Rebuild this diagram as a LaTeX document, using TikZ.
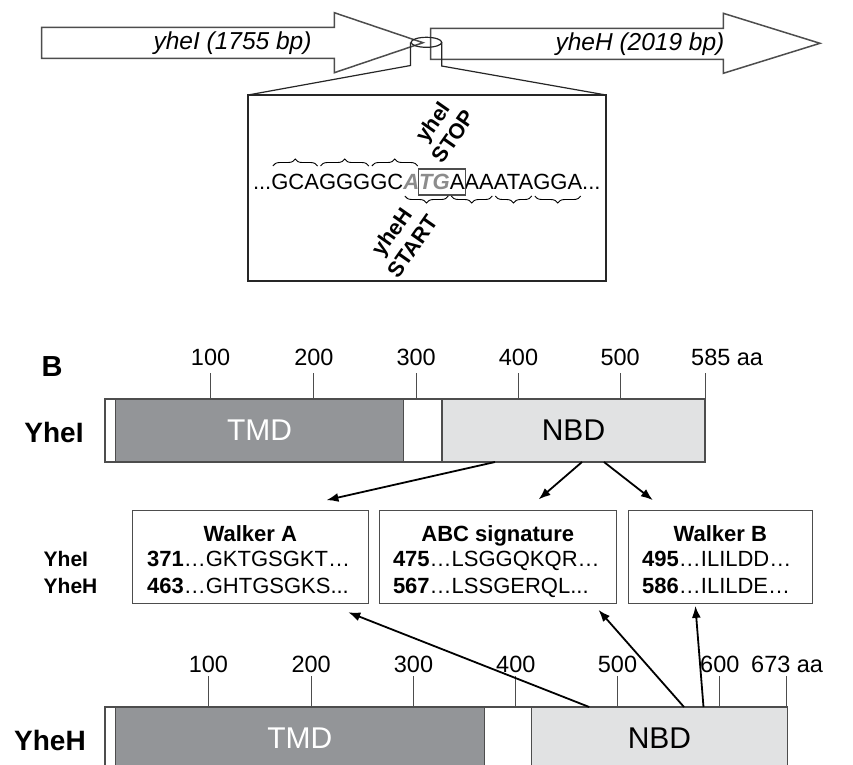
\documentclass[tikz,border=0pt]{standalone}
\usepackage{fontspec}
\setmainfont{Liberation Sans}
\usetikzlibrary{decorations.pathreplacing,arrows.meta}
\definecolor{tmdgray}{HTML}{939598}
\definecolor{nbdgray}{HTML}{E1E2E3}
\definecolor{edgegray}{HTML}{4D4D4D}
\definecolor{atggray}{HTML}{8C8C8C}
\newcommand{\myfs}[2]{\fontsize{#1}{#2}\selectfont}
\begin{document}
\begin{tikzpicture}[x=1pt,y=-1pt,
  gene/.style={draw=edgegray, line width=1.5pt, fill=white, line join=miter},
  zoomln/.style={draw=black!85, line width=1.2pt},
  genelbl/.style={font=\myfs{24.5}{28}\itshape, inner sep=0},
  seq/.style={inner sep=0, outer sep=0, anchor=base west, font=\myfs{22}{26}},
  atg/.style={seq, text=atggray, font=\myfs{22}{26}\bfseries\itshape},
  brc/.style={decorate, decoration={brace, amplitude=7pt}, line width=0.9pt},
  brcm/.style={decorate, decoration={brace, amplitude=7pt, mirror}, line width=0.9pt},
  rotlbl/.style={rotate=55, align=center, font=\myfs{21.5}{25}\bfseries, inner sep=0},
  barbase/.style={draw=edgegray, line width=1.2pt, fill=white, inner sep=0, outer sep=0, minimum height=63pt, anchor=north west},
  tmdbar/.style={barbase, fill=tmdgray, text=white, font=\myfs{30}{34}},
  nbdbar/.style={barbase, fill=nbdgray, text=black, font=\myfs{30}{34}},
  tickln/.style={draw=edgegray, line width=1pt},
  ticklbl/.style={font=\myfs{23.5}{28}, inner sep=0, anchor=base},
  protlbl/.style={font=\myfs{28}{32}\bfseries, inner sep=0},
  motif/.style={draw=edgegray, line width=1.1pt, fill=white, inner sep=0, minimum height=92.6pt},
  mtitle/.style={font=\myfs{22}{26}\bfseries, inner sep=0, anchor=base},
  mrow/.style={font=\myfs{22}{26}, inner sep=0, anchor=base west},
  rowlbl/.style={font=\myfs{21}{25}\bfseries, inner sep=0, anchor=base west},
  conn/.style={line width=1.8pt, -{Latex[length=12pt,width=9pt]}},
]
\useasboundingbox (0,0) rectangle (853,764);
\clip (0,0) rectangle (853,764);
\fill[white] (0,0) rectangle (853,764);

% ---------- Part A: genes ----------
\draw[gene] (41.7,27.3) -- (334.3,27.3) -- (334.3,12.7) -- (423,42.7) -- (334.3,72.7) -- (334.3,58.3) -- (41.7,58.3) -- cycle;
\draw[gene] (430.7,28.3) -- (723.3,28.3) -- (723.3,13.3) -- (820,43.3) -- (723.3,73.3) -- (723.3,59.3) -- (430.7,59.3) -- cycle;
\node[genelbl] (g1lbl) at (232.5,43) {yheI (1755 bp)};
\node[genelbl] (g2lbl) at (640,44) {yheH (2019 bp)};

\draw[zoomln] (426.4,42.3) ellipse [x radius=15.3, y radius=5];
\node[draw=black!85, line width=1.3pt, minimum width=358pt, minimum height=186pt, inner sep=0, outer sep=0, anchor=north west] (zbox) at (248,95) {};
\draw[zoomln] (zbox.north west) -- (410.5,65.5) -- (410.5,42.3);
\draw[zoomln] (zbox.north east) -- (441.7,66) -- (441.7,42.3);

% sequence
\node[seq] (d1) at (253,189) {...};
\node[seq] (c1) at (d1.base east) {GCA};
\node[seq] (c2) at (c1.base east) {GGG};
\node[seq] (c3) at (c2.base east) {GC};
\node[atg] (s1) at (c3.base east) {A};
\node[atg] (s2) at (s1.base east) {TG};
\node[seq] (s3) at (s2.base east) {A};
\node[seq] (c4) at (s3.base east) {AA};
\node[seq] (c5) at (c4.base east) {ATA};
\node[seq] (c6) at (c5.base east) {GGA};
\node[seq] (d2) at (c6.base east) {...};

\draw[brc] ([xshift=1.5pt,yshift=23pt]c1.base west) -- ([xshift=-1.5pt,yshift=23pt]c1.base east);
\draw[brc] ([xshift=1.5pt,yshift=23pt]c2.base west) -- ([xshift=-1.5pt,yshift=23pt]c2.base east);
\draw[brc] ([xshift=1.5pt,yshift=23pt]c3.base west) -- ([xshift=-1.5pt,yshift=23pt]s1.base east);
\draw[draw=edgegray, line width=1.2pt] ([xshift=-1pt,yshift=20pt]s2.base west) rectangle ([xshift=1pt,yshift=-6pt]s3.base east);
\draw[brcm] ([xshift=1.5pt,yshift=-7pt]s1.base west) -- ([xshift=-1.5pt,yshift=-7pt]s2.base east);
\draw[brcm] ([xshift=1.5pt,yshift=-7pt]s3.base west) -- ([xshift=-1.5pt,yshift=-7pt]c4.base east);
\draw[brcm] ([xshift=1.5pt,yshift=-7pt]c5.base west) -- ([xshift=-1.5pt,yshift=-7pt]c5.base east);
\draw[brcm] ([xshift=1.5pt,yshift=-7pt]c6.base west) -- ([xshift=-1.5pt,yshift=-7pt]c6.base east);

\node[rotlbl] (stop) at (443,129) {yheI\\STOP};
\node[rotlbl] (start) at (402,239) {yheH\\START};

% ---------- Part B ----------
\node[font=\myfs{29}{33}\bfseries, inner sep=0] (B) at (52,367) {B};

% YheI bar
\node[barbase, minimum width=600pt] (bar1) at (105,399) {};
\node[tmdbar, minimum width=288.4pt] (tmd1) at (115.3,399) {TMD};
\node[nbdbar, minimum width=263pt] (nbd1) at (442,399) {NBD};
\node[protlbl] (p1) at (54,432) {YheI};
\foreach \x/\t in {210.6/100,313.9/200,416.2/300,518.5/400,620.2/500}{
  \draw[tickln] (\x,373) -- (\x,399);
  \node[ticklbl] (ta\t) at (\x,365) {\t};
}
\draw[tickln] (705,373) -- (705,399);
\node[ticklbl, anchor=base west] (taend) at (691,365) {585 aa};

% YheH bar
\node[barbase, minimum width=682.3pt] (bar2) at (105,707) {};
\node[tmdbar, minimum width=368.9pt] (tmd2) at (115.3,707) {TMD};
\node[nbdbar, minimum width=255.7pt] (nbd2) at (531.6,707) {NBD};
\node[protlbl] (p2) at (50,740) {YheH};
\foreach \x/\t in {208.4/100,311.2/200,413.5/300,515.8/400,617.5/500,719.8/600}{
  \draw[tickln] (\x,676) -- (\x,707);
  \node[ticklbl] (tb\t) at (\x,672) {\t};
}
\draw[tickln] (786.2,676) -- (786.2,707);
\node[ticklbl, anchor=base west] (tbend) at (751,672) {673 aa};

% motif boxes
\node[motif, minimum width=236.1pt] (wa) at (250.25,557) {};
\node[motif, minimum width=237.2pt] (abc) at (497.8,557) {};
\node[motif, minimum width=183.9pt] (wb) at (720.35,557) {};
\node[mtitle] (waT) at (250.25,541) {Walker A};
\node[mtitle] (abcT) at (497.8,541) {ABC signature};
\node[mtitle] (wbT) at (720.35,541) {Walker B};
\node[mrow] (waR1) at (146.9,566) {\textbf{371}…GKTGSGKT…};
\node[mrow] (waR2) at (146.9,593) {\textbf{463}…GHTGSGKS...};
\node[mrow] (abcR1) at (392.8,566) {\textbf{475}…LSGGQKQR…};
\node[mrow] (abcR2) at (392.8,593) {\textbf{567}…LSSGERQL...};
\node[mrow] (wbR1) at (642,566) {\textbf{495}…ILILDD…};
\node[mrow] (wbR2) at (642,593) {\textbf{586}…ILILDE…};
\node[rowlbl] (rl1) at (43.5,566) {YheI};
\node[rowlbl] (rl2) at (43.5,593) {YheH};

% connectors
\draw[conn] ([xshift=53pt]nbd1.south west) -- ([xshift=76.2pt,yshift=10pt]wa.north);
\draw[conn] ([xshift=140pt]nbd1.south west) -- ([xshift=40.8pt,yshift=10.7pt]abc.north);
\draw[conn] ([xshift=162pt]nbd1.south west) -- ([xshift=-67.5pt,yshift=10pt]wb.north);
\draw[conn] ([xshift=57.6pt]nbd2.north west) -- ([xshift=98pt,yshift=-8.4pt]wa.south);
\draw[conn] ([xshift=152.4pt]nbd2.north west) -- ([xshift=100.7pt,yshift=-6pt]abc.south);
\draw[conn] ([xshift=171.9pt]nbd2.north west) -- ([xshift=-25pt,yshift=-2pt]wb.south);
\end{tikzpicture}
\end{document}
